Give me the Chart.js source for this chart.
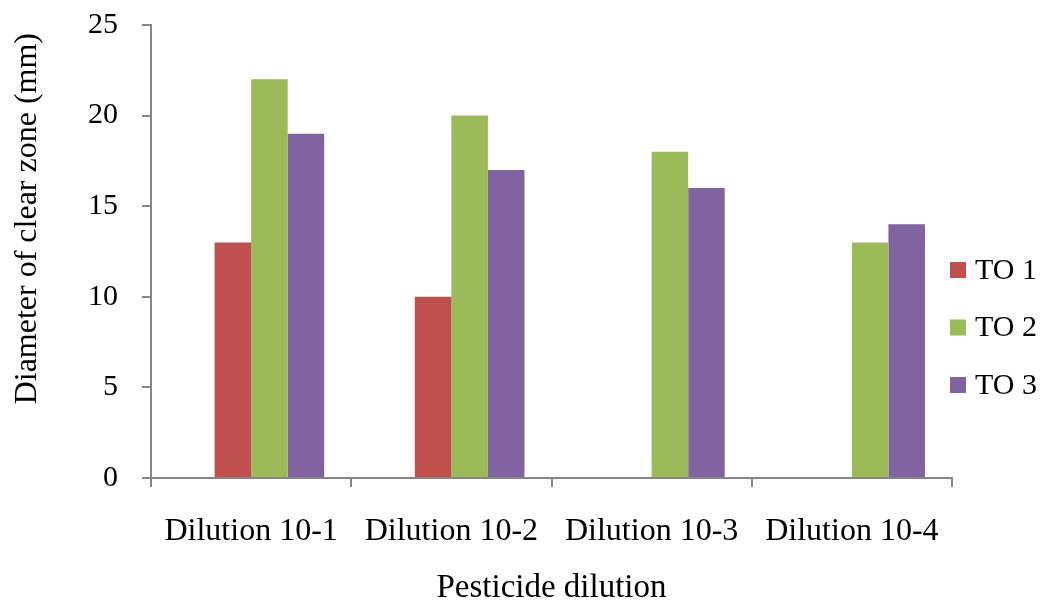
<!DOCTYPE html>
<html>
<head>
<meta charset="utf-8">
<script src="https://cdn.jsdelivr.net/npm/chart.js@4.4.1/dist/chart.umd.min.js"></script>
<style>
  html, body { margin: 0; padding: 0; background: #ffffff; }
  #wrap { width: 1042px; height: 601px; position: relative; }
</style>
</head>
<body>
<div id="wrap"><canvas id="chart" width="1042" height="601"></canvas></div>
<script>
// Categories and series values (diameter of clear zone, mm)
const categories = ['Dilution 10-1', 'Dilution 10-2', 'Dilution 10-3', 'Dilution 10-4'];
const emptySlot = [null, null, null, null];
const to1 = [13, 10, 0, 0];
const to2 = [22, 20, 18, 13];
const to3 = [19, 17, 16, 14];
const yTicks = [0, 5, 10, 15, 20, 25];

const serif = "'Times New Roman', 'Liberation Serif', serif";
const axisGrey = '#868686';

// Legend drawn at the right, one square + label per named series
const sideLegend = {
  id: 'sideLegend',
  afterDraw(chart) {
    const ctx = chart.ctx;
    const area = chart.chartArea;
    const items = chart.data.datasets.filter(d => d.label);
    ctx.save();
    ctx.font = '30px ' + serif;
    ctx.textBaseline = 'middle';
    ctx.textAlign = 'left';
    items.forEach((ds, i) => {
      const cy = 270 + i * 57.5;
      const x0 = area.right - 2;
      ctx.fillStyle = ds.backgroundColor;
      ctx.fillRect(x0, cy - 8, 16, 16);
      ctx.fillStyle = '#000000';
      ctx.fillText(ds.label, x0 + 25, cy + 1);
    });
    ctx.restore();
  }
};

new Chart(document.getElementById('chart'), {
  type: 'bar',
  data: {
    labels: categories,
    datasets: [
      { label: '', data: emptySlot, backgroundColor: '#ffffff' },
      { label: 'TO 1', data: to1, backgroundColor: '#C0504D' },
      { label: 'TO 2', data: to2, backgroundColor: '#9BBB59' },
      { label: 'TO 3', data: to3, backgroundColor: '#8064A2' }
    ]
  },
  options: {
    responsive: false,
    animation: false,
    devicePixelRatio: 1,
    layout: { padding: { top: 25, right: 90, left: 0, bottom: 0 } },
    datasets: { bar: { categoryPercentage: 0.73, barPercentage: 1.0, borderWidth: 0 } },
    plugins: {
      legend: { display: false },
      tooltip: { enabled: false }
    },
    scales: {
      x: {
        afterFit(scale) {
          scale.height = 123;
          scale.paddingLeft = 0; scale.paddingRight = 0;
        },
        grid: {
          display: true, drawOnChartArea: false, drawTicks: true,
          tickLength: 9, color: axisGrey, lineWidth: 2, offset: true
        },
        border: { display: true, color: axisGrey, width: 2 },
        ticks: {
          color: '#000000', font: { family: serif, size: 32 },
          padding: 25, maxRotation: 0, autoSkip: false
        },
        title: {
          display: true, text: 'Pesticide dilution', color: '#000000',
          font: { family: serif, size: 33, lineHeight: 0.75 },
          padding: { top: 0, bottom: 0 }
        }
      },
      y: {
        min: 0, max: 25,
        afterFit(scale) {
          scale.width = 151;
          scale.paddingTop = 0; scale.paddingBottom = 0;
        },
        afterBuildTicks(scale) { scale.ticks = yTicks.map(v => ({ value: v })); },
        grid: {
          display: true, drawOnChartArea: false, drawTicks: true,
          tickLength: 9, color: axisGrey, lineWidth: 2
        },
        border: { display: true, color: axisGrey, width: 2 },
        ticks: {
          color: '#000000', font: { family: serif, size: 30 }, padding: 24
        },
        title: {
          display: true, text: 'Diameter of clear zone (mm) ', color: '#000000',
          align: 'end',
          font: { family: serif, size: 32, lineHeight: 1.2 },
          padding: { top: 8, bottom: 0 }
        }
      }
    }
  },
  plugins: [sideLegend]
});
</script>
</body>
</html>
